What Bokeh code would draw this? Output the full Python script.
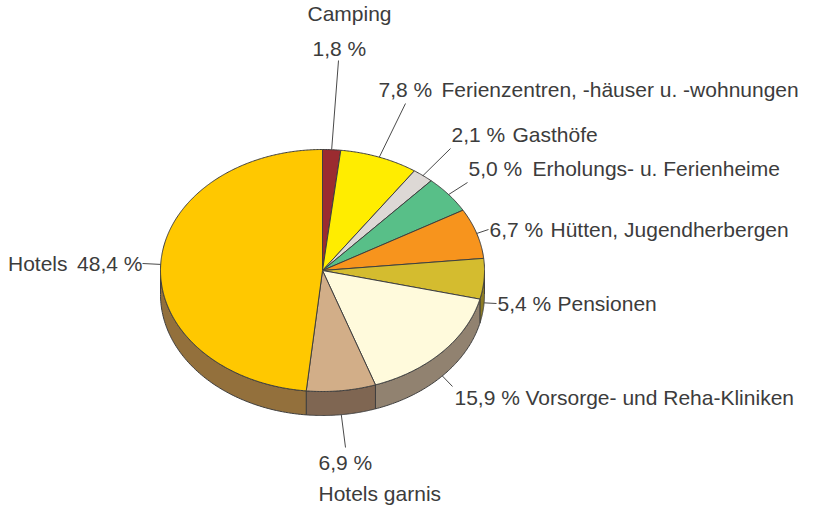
import numpy as np
from bokeh.plotting import figure
from bokeh.models import Range1d
from bokeh.embed import file_html
from bokeh.resources import INLINE
from bokeh.core.properties import value

# ---- data ----
names = ["Camping", "Ferienzentren, -häuser u. -wohnungen", "Gasthöfe",
         "Erholungs- u. Ferienheime", "Hütten, Jugendherbergen", "Pensionen",
         "Vorsorge- und Reha-Kliniken", "Hotels garnis", "Hotels"]
shares = [1.8, 7.8, 2.1, 5.0, 6.7, 5.4, 15.9, 6.9, 48.4]
top_colors = ["#9B2B30", "#FFED00", "#DDD8D5", "#58BF88", "#F7941D",
              "#D4BC2F", "#FFFADC", "#D2AE88", "#FFC800"]
side_colors = ["#5E1A1D", "#9C9100", "#8A8683", "#357350", "#9A5C12",
               "#8C7C24", "#918270", "#7F6652", "#93703C"]

# ---- layout (pixel coords, y downward) ----
CX, CY, RX, RY, DEPTH = 327.0, 275.0, 162.0, 121.0, 24.0
leader_end = [(343, 65), (410, 108), (455, 153), (472, 187), (493, 234),
              (501, 308), (457, 391), (350, 452), (147, 268)]

W, H = 800, 507
OX, OY = 5, 5
p = figure(width=W, height=H, output_backend="svg", toolbar_location=None,
           x_range=Range1d(OX, OX + W), y_range=Range1d(OY + H, OY),
           min_border=0, outline_line_color=None)
p.axis.visible = False
p.grid.visible = False

def ell(t):
    t = np.radians(t)
    return CX + RX * np.sin(t), CY - RY * np.cos(t)

fracs = np.array(shares) / sum(shares)
starts = np.concatenate([[0], np.cumsum(fracs)[:-1]]) * 360
ends = np.cumsum(fracs) * 360

EDGE = "#3F3F3F"
for s, e, c in zip(starts, ends, side_colors):
    a, b = max(s, 90), min(e, 270)
    if a >= b:
        continue
    t = np.linspace(a, b, 80)
    x, y = ell(t)
    xs = np.concatenate([x, x[::-1]])
    ys = np.concatenate([y, y[::-1] + DEPTH])
    p.patch(xs, ys, fill_color=c, line_color=EDGE, line_width=1)

for s, e, c in zip(starts, ends, top_colors):
    t = np.linspace(s, e, max(int((e - s) * 2), 4))
    x, y = ell(t)
    xs = np.concatenate([[CX], x])
    ys = np.concatenate([[CY], y])
    p.patch(xs, ys, fill_color=c, line_color=EDGE, line_width=1)

TXT = "#3C3C3C"
for s, e, (lx, ly) in zip(starts, ends, leader_end):
    m = (s + e) / 2
    x, y = ell(m)
    if 90 < m < 270:
        y += DEPTH
    p.line([x, lx], [y, ly], line_color="#4A4A4A", line_width=1)

def pct(v):
    return f"{v:.1f}".replace(".", ",") + " %"

font = value("Liberation Sans")
FS = "21px"

def txt(x, y, s, align="left"):
    p.text(x=[x], y=[y], text=[s], text_font=font, text_font_size=FS,
           text_color=TXT, text_align=align, text_baseline="middle")

txt(312, 18, names[0]); txt(317, 53, pct(shares[0]))
right_pos = [(383, 446, 94), (456, 517, 139), (473, 537, 173),
             (494, 555, 234), (502, 562, 308), (459, 530, 402)]
for i, (px, nx, yy) in zip(range(1, 7), right_pos):
    txt(px, yy, pct(shares[i])); txt(nx, yy, names[i])
txt(323, 467, pct(shares[7])); txt(323, 498, names[7])
txt(147, 268, pct(shares[8]), "right"); txt(72, 268, names[8], "right")

open("out.html", "w").write(file_html(p, INLINE))
